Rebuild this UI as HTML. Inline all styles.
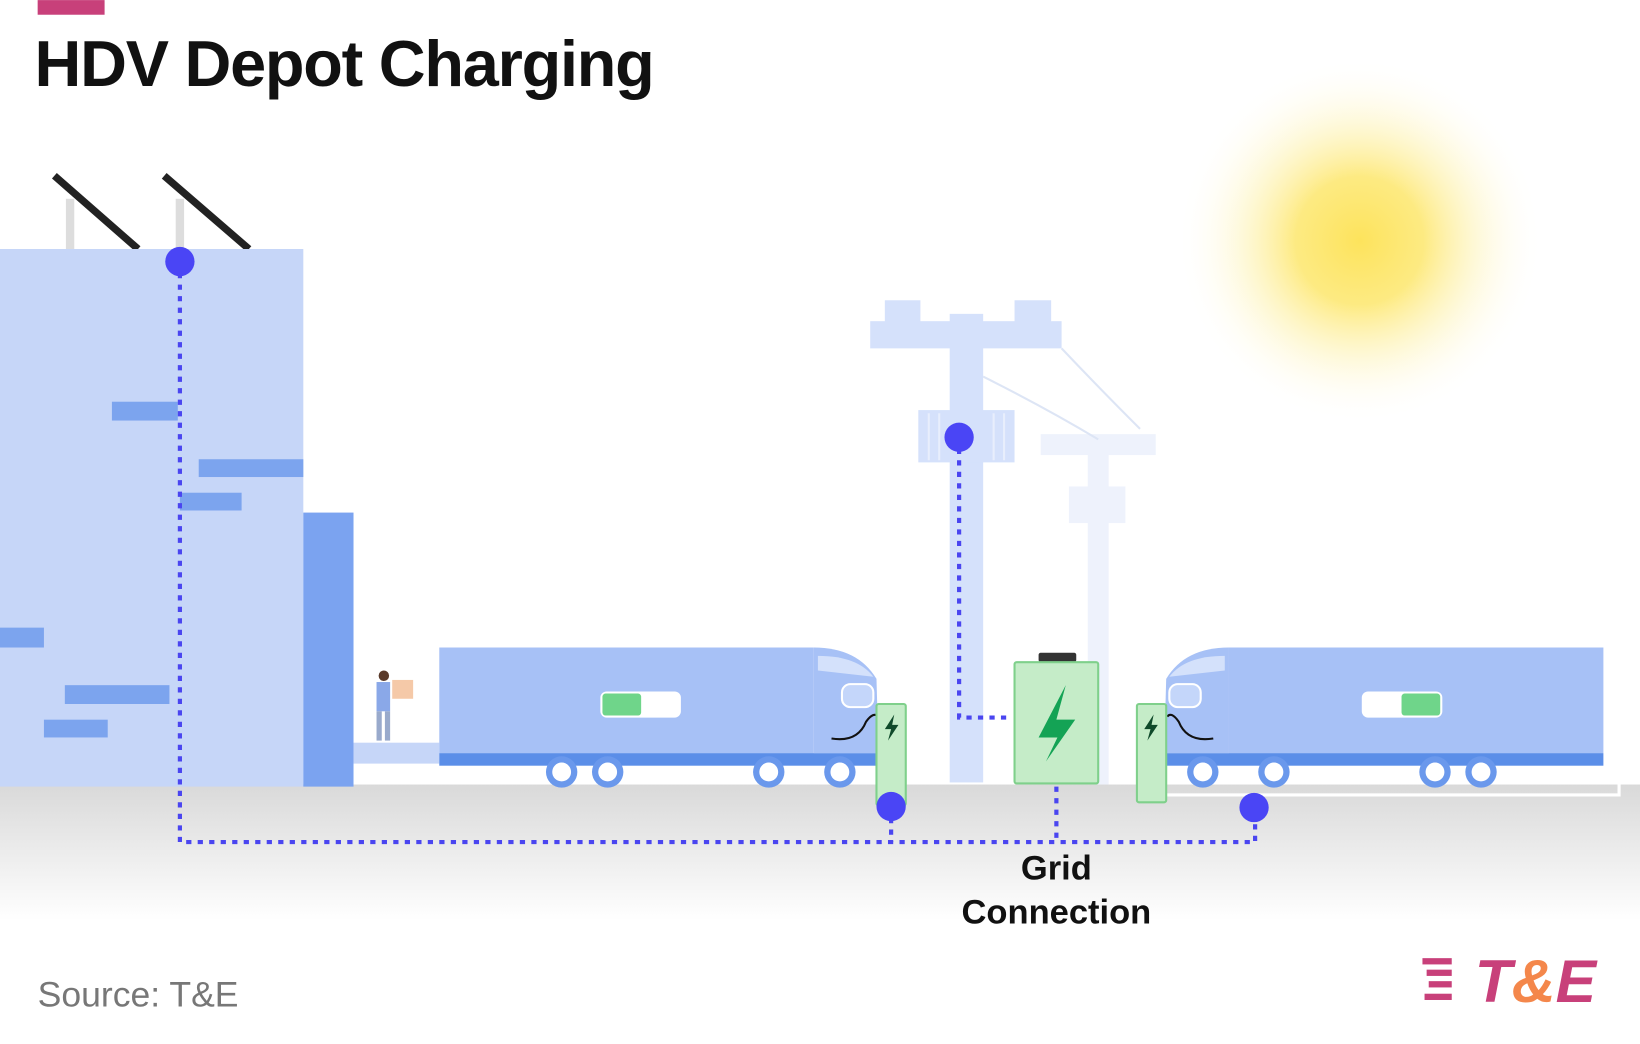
<!DOCTYPE html>
<html><head><meta charset="utf-8"><style>html,body{margin:0;padding:0;background:#fff}svg{display:block}</style></head>
<body>
<svg width="1640" height="1044" viewBox="0 0 1568 998" xmlns="http://www.w3.org/2000/svg" font-family="Liberation Sans, sans-serif">
<defs>
<radialGradient id="sun" cx="0.5" cy="0.5" r="0.5"><stop offset="0" stop-color="#fde35c"/><stop offset="0.35" stop-color="#fde874" stop-opacity="0.9"/><stop offset="1" stop-color="#fff" stop-opacity="0"/></radialGradient>
<linearGradient id="gr" x1="0" y1="0" x2="0" y2="1"><stop offset="0" stop-color="#d9d9d9"/><stop offset="1" stop-color="#fff"/></linearGradient>
<g id="truck">
<rect x="0" y="0" width="358" height="101" fill="#a7c1f6"/>
<rect x="0" y="101" width="420" height="12" fill="#5b8ee8"/>
<path d="M358 0 Q400 0 418 30 L420 101 L358 101 Z" fill="#a7c1f6"/>
<path d="M362 8 Q400 8 415 28 L362 22 Z" fill="#d4e1fb"/>
<rect x="385" y="35" width="30" height="22" rx="8" fill="#c4d6fa" stroke="#fff" stroke-width="2"/>
<rect x="154" y="42" width="77" height="25" rx="6" fill="#fff"/>
<rect x="156" y="44" width="37" height="21" rx="3" fill="#6fd58a"/>
</g>
<g id="wh"><circle r="15" fill="#6a98ec"/><circle r="9" fill="#fff"/></g>
</defs>
<rect x="0" y="750" width="1568" height="130" fill="url(#gr)"/>
<circle cx="1300" cy="230" r="175" fill="url(#sun)"/>
<rect x="36" y="0" width="64" height="14" fill="#c8407a"/>
<text x="33" y="82" font-size="62" font-weight="bold" fill="#111" textLength="593">HDV Depot Charging</text>
<rect x="63" y="190" width="8" height="50" fill="#ddd"/><rect x="168" y="190" width="8" height="50" fill="#ddd"/>
<line x1="52" y1="168" x2="132" y2="238" stroke="#222" stroke-width="7"/>
<line x1="157" y1="168" x2="238" y2="238" stroke="#222" stroke-width="7"/>
<rect x="0" y="238" width="290" height="514" fill="#c6d6f8"/>
<rect x="290" y="490" width="48" height="262" fill="#7ba3f0"/>
<g fill="#7ca4ee"><rect x="107" y="384" width="63" height="18"/><rect x="190" y="439" width="100" height="17"/><rect x="172" y="471" width="59" height="17"/><rect x="0" y="600" width="42" height="19"/><rect x="62" y="655" width="100" height="18"/><rect x="42" y="688" width="61" height="17"/></g>
<rect x="338" y="710" width="82" height="20" fill="#c6d6f8"/>
<circle cx="367" cy="646" r="5" fill="#5a3a2a"/><rect x="360" y="652" width="13" height="28" fill="#8aa8e8"/><rect x="360" y="680" width="5" height="28" fill="#99aacc"/><rect x="368" y="680" width="5" height="28" fill="#99aacc"/><rect x="375" y="650" width="20" height="18" fill="#f5c9a8"/>
<g fill="#eef2fc"><rect x="1040" y="420" width="20" height="330"/><rect x="995" y="415" width="110" height="20"/><rect x="1022" y="465" width="54" height="35"/></g>
<g fill="#d5e1fb"><rect x="908" y="300" width="32" height="448"/><rect x="832" y="307" width="183" height="26"/><rect x="846" y="287" width="34" height="22"/><rect x="970" y="287" width="35" height="22"/><rect x="878" y="392" width="92" height="50"/></g>
<g stroke="#e8eefc" stroke-width="2"><path d="M888 395 V440 M898 395 V440 M950 395 V440 M960 395 V440"/></g>
<path d="M940 360 Q1000 390 1050 420 M1015 333 Q1050 370 1090 410" stroke="#dde5f5" stroke-width="2" fill="none"/>
<use href="#truck" x="420" y="619"/>
<use href="#wh" x="537" y="738"/><use href="#wh" x="581" y="738"/><use href="#wh" x="735" y="738"/><use href="#wh" x="803" y="738"/>
<g transform="translate(1533,619) scale(-1,1)"><use href="#truck"/></g>
<use href="#wh" x="1150" y="738"/><use href="#wh" x="1218" y="738"/><use href="#wh" x="1372" y="738"/><use href="#wh" x="1416" y="738"/>
<path d="M1115 760 H1548 V750" stroke="#fff" stroke-width="3" fill="none"/>
<path d="M795 706 Q820 710 828 690 Q835 680 840 685" stroke="#111" stroke-width="2" fill="none"/>
<path d="M1160 706 Q1135 710 1127 690 Q1120 680 1116 685" stroke="#111" stroke-width="2" fill="none"/>
<rect x="838" y="673" width="28" height="97" rx="2" fill="#c5ecc8" stroke="#7fd08b" stroke-width="2"/>
<rect x="1087" y="673" width="28" height="94" rx="2" fill="#c5ecc8" stroke="#7fd08b" stroke-width="2"/>
<path d="M855 683 L846 697 L852 697 L849 708 L859 693 L853 693 Z" fill="#0f4a2a"/>
<path d="M1103 683 L1094 697 L1100 697 L1097 708 L1107 693 L1101 693 Z" fill="#0f4a2a"/>
<rect x="993" y="624" width="36" height="9" rx="2" fill="#333"/>
<rect x="970" y="633" width="80" height="116" rx="2" fill="#c5ecc8" stroke="#7fd08b" stroke-width="2"/>
<path d="M1019 655 L993 705 L1011 705 L1000 728 L1028 688 L1010 688 Z" fill="#14a355"/>
<g stroke="#4a45f0" stroke-width="4" stroke-dasharray="5 6" fill="none">
<path d="M172 250 V805 H1200 V772"/><path d="M852 771 V805"/><path d="M917 418 V686 H968"/><path d="M1010 752 V805"/>
</g>
<g fill="#4a45f5"><circle cx="172" cy="250" r="14"/><circle cx="917" cy="418" r="14"/><circle cx="852" cy="771" r="14"/><circle cx="1199" cy="772" r="14"/></g>
<text x="1010" y="841" font-size="33" font-weight="bold" text-anchor="middle" fill="#111">Grid</text>
<text x="1010" y="883" font-size="33" font-weight="bold" text-anchor="middle" fill="#111">Connection</text>
<text x="36" y="962" font-size="34" fill="#777">Source: T&amp;E</text>
<g fill="#c8407a"><rect x="1360" y="916" width="28" height="6"/><rect x="1364" y="927" width="24" height="6"/><rect x="1366" y="938" width="22" height="6"/><rect x="1362" y="950" width="26" height="6"/></g>
<text x="1410" y="958" font-size="58" font-weight="bold" font-style="italic" fill="#c8407a">T<tspan fill="#f4874b">&amp;</tspan>E</text>
</svg>
</body></html>
